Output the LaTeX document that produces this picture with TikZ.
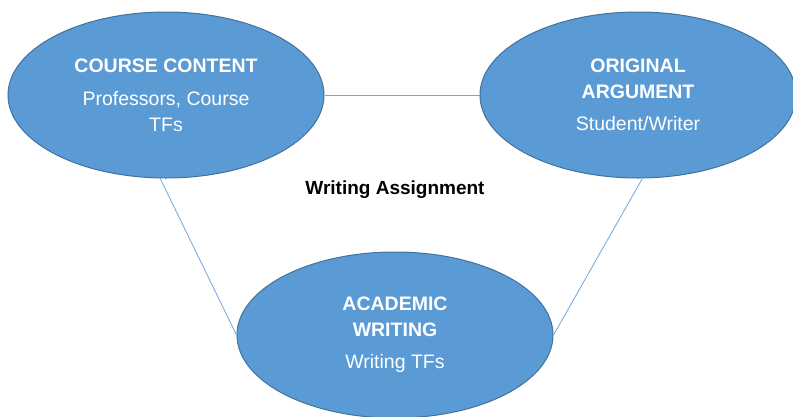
\documentclass[tikz,border=0pt]{standalone}
\usepackage{fontspec}
\setmainfont{Liberation Sans}
\usetikzlibrary{shapes.geometric}
\definecolor{ovalfill}{HTML}{5B9BD5}
\definecolor{ovaledge}{HTML}{41719C}
\definecolor{linkblue}{HTML}{6FA6DC}
\tikzset{
  oval/.style={ellipse, draw=ovaledge, fill=ovalfill, line width=1pt,
    minimum width=316pt, minimum height=166pt, inner sep=0pt,
    text=white, align=center, font=\fontsize{19.5}{26}\selectfont},
  link/.style={draw=linkblue, line width=0.8pt}
}
\begin{document}
\begin{tikzpicture}[x=1pt,y=-1pt]
\useasboundingbox (0,0) rectangle (793,416);
\node[oval] (cc) at (166,95) {{\bfseries COURSE CONTENT}\\[7pt]Professors, Course\\TFs};
\node[oval] (oa) at (638,95) {{\bfseries ORIGINAL}\\{\bfseries ARGUMENT}\\[6pt]Student/Writer};
\node[oval] (aw) at (395,335) {{\bfseries ACADEMIC}\\{\bfseries WRITING}\\[6pt]Writing TFs};
\node[font=\fontsize{19}{23}\selectfont\bfseries] (wa) at (395,190) {Writing Assignment};
\draw[link] (cc.east) -- (oa.west);
\draw[link] (cc.266) -- (aw.west);
\draw[link] (oa.273) -- (aw.east);
\end{tikzpicture}
\end{document}
